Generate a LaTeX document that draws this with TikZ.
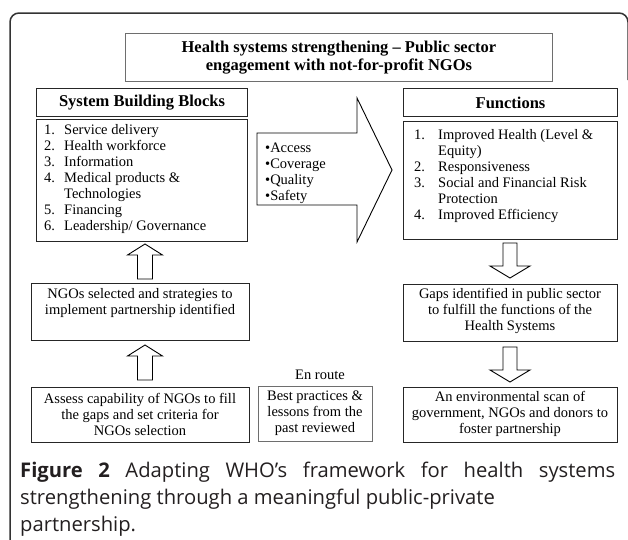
\documentclass[tikz,border=0pt]{standalone}
\usepackage{fontspec}
\setmainfont{Liberation Serif}
\newfontfamily\capfont{Open Sans}
\usetikzlibrary{calc}
\definecolor{framecol}{HTML}{333333}
\definecolor{thincol}{HTML}{6E6E6E}
\definecolor{capcol}{HTML}{231F20}
\begin{document}
\begin{tikzpicture}[x=1pt,y=-1pt,
  box/.style={draw=black!85, line width=1.1pt, fill=white, inner sep=0pt, anchor=north west},
  thinbox/.style={draw=thincol, line width=0.8pt, inner sep=0pt, anchor=north west},
  txt/.style={font=\fontsize{14.5}{16}\selectfont, align=center, inner sep=0pt},
  ltxt/.style={font=\fontsize{14.5}{16}\selectfont, inner sep=0pt, anchor=base west},
  headtxt/.style={font=\fontsize{16.5}{18}\selectfont\bfseries},
  captxt/.style={font=\capfont\fontsize{20.2}{27}\selectfont, text=capcol, inner sep=0pt, anchor=base west},
  blockarrow/.style={draw=black, line width=0.9pt, fill=white, line join=miter},
  uparr/.pic={\draw[blockarrow] (0,0) -- (17.5,11) -- (7.5,11) -- (7.5,35) -- (-7.5,35) -- (-7.5,11) -- (-17.5,11) -- cycle;},
  downarr/.pic={\draw[blockarrow] (0,0) -- (20,-12) -- (7,-12) -- (7,-35) -- (-7,-35) -- (-7,-12) -- (-20,-12) -- cycle;}
]
\useasboundingbox (0,0) rectangle (628,539);
\clip (0,0) rectangle (628,539);

% outer frame
\draw[framecol, line width=1.5pt, rounded corners=9pt] (10,560) -- (10,13) -- (628,13) -- (628,80);

% title
\node[thinbox, minimum width=427pt, minimum height=48pt, align=center, headtxt] (title) at (125,33)
  {Health systems strengthening – Public sector\\engagement with not-for-profit NGOs};

% system building blocks
\node[box, minimum width=211pt, minimum height=28pt, headtxt] (sbbHead) at (36,88) {System Building Blocks};
\node[box, minimum width=211pt, minimum height=122pt] (sbbBody) at (36,119) {};
\foreach \n/\t/\yy [count=\i] in {1./Service delivery/134, 2./Health workforce/150, 3./Information/166,
   4./Medical products \&/182, /Technologies/198, 5./Financing/214, 6./Leadership\slash{} Governance/230}{
  \node[ltxt] (sbbN\i) at (44,\yy) {\n};
  \node[ltxt] (sbbT\i) at (64,\yy) {\t};
}

% functions
\node[box, minimum width=214pt, minimum height=28pt, headtxt] (fnHead) at (403,88) {Functions};
\node[box, minimum width=214pt, minimum height=118pt] (fnBody) at (403,121) {};
\foreach \n/\t/\yy [count=\i] in {1./Improved Health (Level \&/139, /Equity)/155, 2./Responsiveness/171,
   3./Social and Financial Risk/187, /Protection/203, 4./Improved Efficiency/219}{
  \node[ltxt] (fnN\i) at (414,\yy) {\n};
  \node[ltxt] (fnT\i) at (438,\yy) {\t};
}

% big arrow
\draw[blockarrow] (257,133) -- (357,133) -- (357,98) -- (392,170) -- (357,242) -- (357,205) -- (257,205) -- cycle;
\foreach \t/\yy [count=\i] in {Access/152, Coverage/168, Quality/184, Safety/200}{
  \node[ltxt] (bul\i) at (265,\yy) {\textbullet\t};
}

% left column
\node[box, minimum width=218pt, minimum height=57pt] (ngo) at (31,283) {};
\node[txt] (ngoT) at (140,303) {NGOs selected and strategies to\\implement partnership identified};
\node[box, minimum width=218pt, minimum height=55pt] (assess) at (31,387) {};
\node[txt] (assessT) at (140,414) {Assess capability of NGOs to fill\\the gaps and set criteria for\\NGOs selection};

% middle bottom
\node[txt] (enroute) at (320,375) {En route};
\node[thinbox, minimum width=114pt, minimum height=55pt] (best) at (258,386) {};
\node[txt] (bestT) at (315,413) {Best practices \&\\lessons from the\\past reviewed};

% right column
\node[box, minimum width=214pt, minimum height=57pt] (gaps) at (403,284) {};
\node[txt] (gapsT) at (510,311) {Gaps identified in public sector\\to fulfill the functions of the\\Health Systems};
\node[box, minimum width=214pt, minimum height=55pt] (env) at (403,387) {};
\node[txt] (envT) at (510,414) {An environmental scan of\\government, NGOs and donors to\\foster partnership};

% block arrows
\pic at (145,244) {uparr};
\pic at (145,345) {uparr};
\pic at (510,278) {downarr};
\pic at (510,382) {downarr};

% caption
\node[captxt] (cap1) at (20,477) {\makebox[595pt][s]{\textbf{Figure 2} Adapting WHO’s framework for health systems}};
\node[captxt] (cap2) at (20,504) {strengthening through a meaningful public-private};
\node[captxt] (cap3) at (20,531) {partnership.};
\end{tikzpicture}
\end{document}
